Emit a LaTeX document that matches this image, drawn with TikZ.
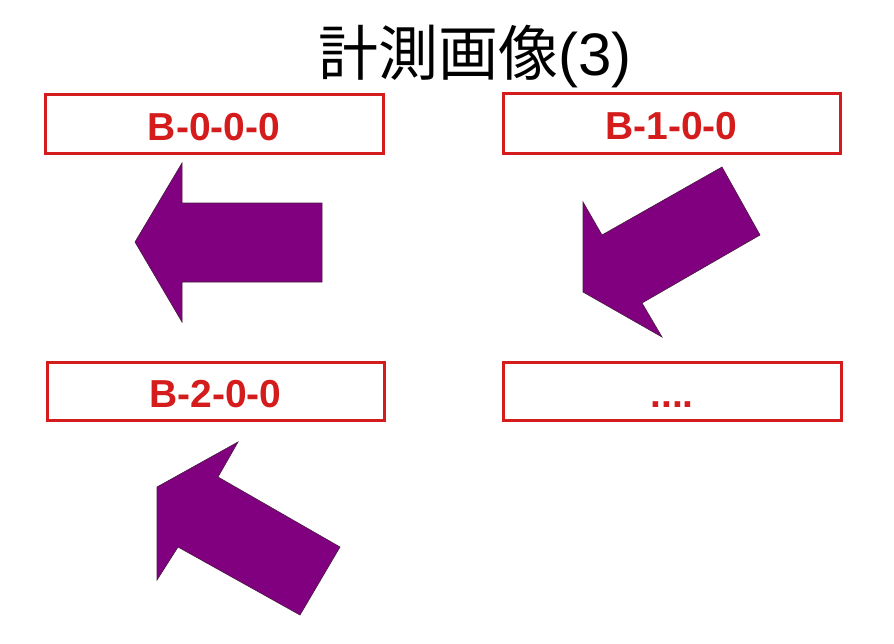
\documentclass[tikz,border=0pt]{standalone}
\usepackage{fontspec}
\setmainfont{Liberation Sans}
\newfontfamily\cjk{Noto Sans CJK JP}
\definecolor{boxred}{HTML}{D41C1C}
\definecolor{arrowpurple}{HTML}{800080}
\definecolor{arrowedge}{HTML}{4A1A40}
\begin{document}
\begin{tikzpicture}[x=1pt,y=-1pt,
  labelbox/.style={draw=boxred, line width=3pt, fill=white, inner sep=0pt,
    text height=33pt, text depth=0pt,
    font=\fontsize{39}{42}\selectfont\bfseries, text=boxred},
  bigarrow/.style={fill=arrowpurple, draw=arrowedge, line width=0.6pt, line join=miter}]
\useasboundingbox (0,0) rectangle (894,643);
\fill[white] (0,0) rectangle (894,643);
\node[anchor=center, inner sep=0pt] (title) at (475,57)
  {\fontsize{60}{63}\selectfont{\cjk 計測画像}(3)};
\node[labelbox, minimum width=338pt, minimum height=59pt] (b000) at (214,123.5) {B-0-0-0};
\node[labelbox, minimum width=337pt, minimum height=60pt] (b100) at (671.5,123) {B-1-0-0};
\node[labelbox, minimum width=337pt, minimum height=58pt] (b200) at (215.5,391) {B-2-0-0};
\node[labelbox, minimum width=338pt, minimum height=58pt] (bdots) at (672,391) {....};
% arrows
\draw[bigarrow] (135,242) -- (182,163) -- (182,203) -- (322,203) -- (322,282) -- (182,282) -- (182,322) -- cycle;
\draw[bigarrow] (583,292) -- (583,202) -- (602,235) -- (722,167) -- (760,235) -- (642,303) -- (662,337) -- cycle;
\draw[bigarrow] (157,487) -- (238,442) -- (218,477) -- (340,547) -- (300,615) -- (178,547) -- (157,580) -- cycle;
\end{tikzpicture}
\end{document}
